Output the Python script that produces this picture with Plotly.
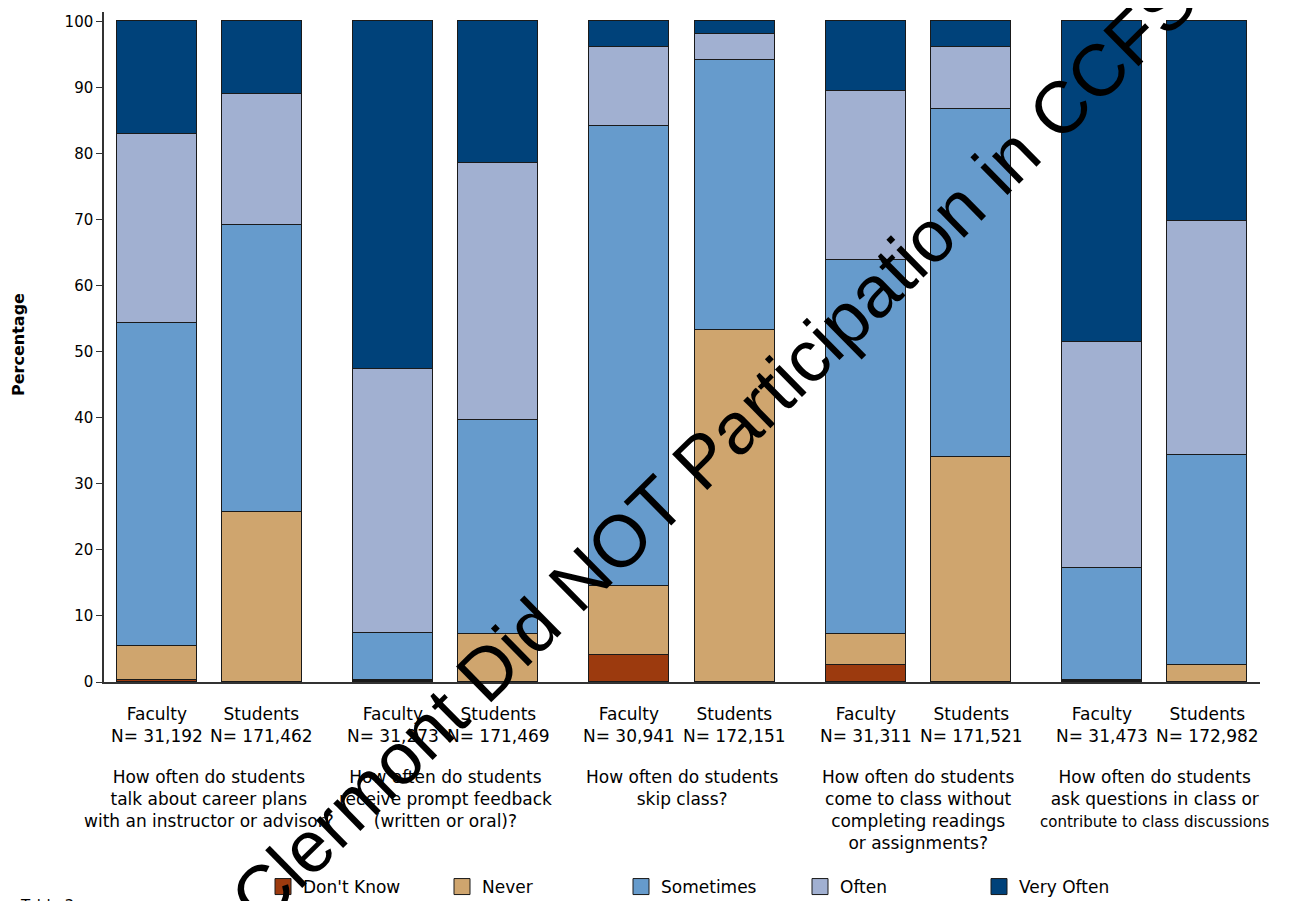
import plotly.graph_objects as go

# ---------------- data ----------------
questions = [
    "How often do students<br>talk about career plans<br>with an instructor or advisor?",
    "How often do students<br>receive prompt feedback<br>(written or oral)?",
    "How often do students<br>skip class?",
    "How often do students<br>come to class without<br>completing readings<br>or assignments?",
    "How often do students<br>ask questions in class or<br>"
    "<span style='font-size:15px'>contribute to class discussions</span>",
]
respondents = ["Faculty", "Students"]
n_labels = ["31,192", "171,462", "31,273", "171,469", "30,941",
            "172,151", "31,311", "171,521", "31,473", "172,982"]

categories = ["Don't Know", "Never", "Sometimes", "Often", "Very Often"]
dont_know = [0.3, 0.0, 0.2, 0.0, 4.1, 0.0, 2.6, 0.0, 0.1, 0.0]
never = [5.1, 25.7, 0.1, 7.2, 10.4, 53.2, 4.7, 34.0, 0.2, 2.6]
sometimes = [49.0, 43.5, 7.1, 32.4, 69.6, 40.9, 56.5, 52.7, 16.9, 31.8]
often = [28.5, 19.8, 39.9, 38.9, 12.0, 3.9, 25.7, 9.4, 34.2, 35.4]
very_often = [17.1, 11.0, 52.7, 21.5, 3.9, 2.0, 10.5, 3.9, 48.6, 30.2]

y_ticks = [0, 10, 20, 30, 40, 50, 60, 70, 80, 90, 100]
watermark = "Clermont Did NOT Participation in CCFSSE"

# ---------------- layout helpers ----------------
colors = ["#9C3A0E", "#CFA56E", "#669BCC", "#A1B0D1", "#00427A"]
GROUP_STEP = 2.25
x_pos = []
for g in range(len(questions)):
    for m in range(len(respondents)):
        x_pos.append(g * GROUP_STEP + m - 0.5)
group_centers = [g * GROUP_STEP for g in range(len(questions))]

FONT = "DejaVu Sans, Liberation Sans, sans-serif"
WM_FONT = "Liberation Sans, Arial, sans-serif"
PAGE_OFF = 8  # default body margin of the html page
PLOT_L, PLOT_R, PLOT_T, PLOT_B = 104, 1260, 12, 682  # screen pixels


def px_x(p):
    return (p - PLOT_L) / (PLOT_R - PLOT_L)


def px_y(p):
    return (PLOT_B - p) / (PLOT_B - PLOT_T)


fig = go.Figure()
for name, vals, col in zip(categories, [dont_know, never, sometimes, often, very_often], colors):
    fig.add_trace(go.Bar(
        x=x_pos, y=vals, name=name, width=0.762, showlegend=False, legendgroup=name,
        marker=dict(color=col, line=dict(color="#1a1a1a", width=1)),
    ))
# legend entries (larger square swatches, like the reference)
for name, col in zip(categories, colors):
    fig.add_trace(go.Scatter(
        x=[None], y=[None], mode="markers", name=name, legendgroup=name,
        marker=dict(symbol="square", size=16, color=col, line=dict(color="#1a1a1a", width=1)),
    ))

annotations = []
for i, xp in enumerate(x_pos):
    annotations.append(dict(
        x=xp, y=px_y(702), xref="x", yref="paper", xanchor="center", yanchor="top",
        text=f"{respondents[i % 2]}<br>N= {n_labels[i]}", showarrow=False,
        font=dict(family=FONT, size=17, color="#000"),
    ))
for gc, q in zip(group_centers, questions):
    annotations.append(dict(
        x=gc, y=px_y(765), xref="x", yref="paper", xanchor="center", yanchor="top",
        text=q, showarrow=False,
        font=dict(family=FONT, size=17, color="#000"),
    ))
annotations.append(dict(
    x=px_x(18), y=px_y(345), xref="paper", yref="paper", xanchor="center", yanchor="middle",
    text="<b>Percentage</b>", textangle=-90, showarrow=False,
    font=dict(family=FONT, size=16, color="#000"),
))
annotations.append(dict(
    x=px_x(18), y=px_y(895), xref="paper", yref="paper", xanchor="left", yanchor="top",
    text="Table 3", showarrow=False, font=dict(family=FONT, size=15, color="#000"),
))
annotations.append(dict(
    x=px_x(748), y=px_y(415), xref="paper", yref="paper",
    xanchor="center", yanchor="middle", text=watermark, textangle=-44.5,
    showarrow=False, font=dict(family=WM_FONT, size=73, color="#000"),
))

fig.update_layout(
    width=1289 - PAGE_OFF, height=901 - PAGE_OFF,
    margin=dict(l=PLOT_L - PAGE_OFF, r=1289 - PLOT_R, t=PLOT_T - PAGE_OFF,
                b=901 - PLOT_B, autoexpand=False),
    paper_bgcolor="white", plot_bgcolor="white",
    barmode="stack", bargap=0,
    font=dict(family=FONT, size=17, color="#000"),
    xaxis=dict(range=[-1.0, 10.0], showticklabels=False, ticks="", showgrid=False,
               zeroline=False, showline=True, linecolor="#333", linewidth=1.5),
    yaxis=dict(range=[0, 101.4], tickvals=y_ticks, ticks="outside", ticklen=6,
               tickcolor="#333", showgrid=False, zeroline=False, showline=True,
               linecolor="#333", linewidth=1.5, automargin=False,
               tickfont=dict(family=FONT, size=15, color="#000")),
    legend=dict(orientation="h", x=px_x(263), xanchor="left", y=px_y(887), yanchor="middle",
                traceorder="normal", entrywidth=134, entrywidthmode="pixels",
                font=dict(family=FONT, size=17, color="#000"), bgcolor="rgba(0,0,0,0)"),
    annotations=annotations,
    showlegend=True,
)

fig.write_html("out.html")
